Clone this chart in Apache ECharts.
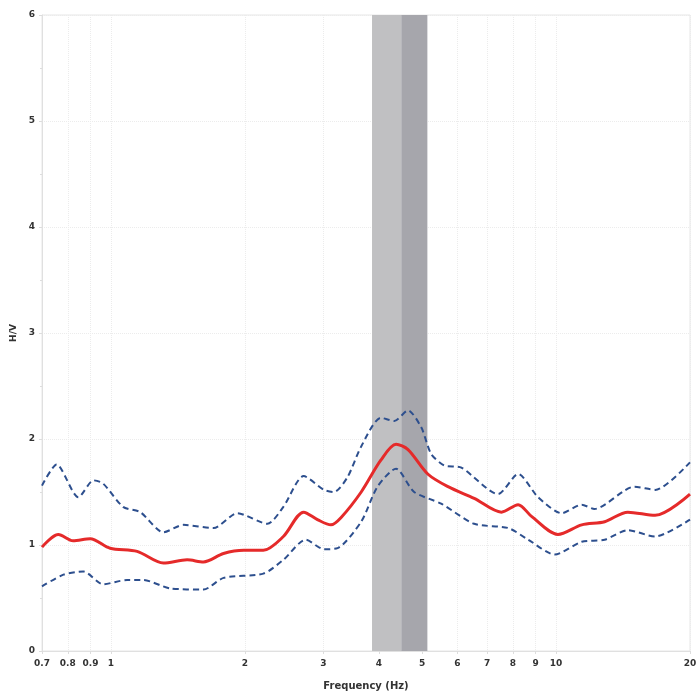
<!DOCTYPE html>
<html><head><meta charset="utf-8">
<script src="https://cdn.jsdelivr.net/npm/echarts@6/dist/echarts.min.js"></script>
<style>html,body{margin:0;padding:0;background:#fff}#c{width:700px;height:696px}</style>
</head><body><div id="c"></div>
<script>
const freqMed = [0.70,0.762,0.822,0.898,0.996,1.145,1.312,1.483,1.614,1.79,1.99,2.20,2.44,2.71,2.91,3.12,3.29,3.65,4.04,4.37,4.65,5.15,5.72,6.55,7.54,8.22,8.81,10.1,11.42,12.86,14.5,16.7,20];
const hvMed   = [0.98,1.10,1.04,1.06,0.97,0.94,0.83,0.86,0.84,0.92,0.95,0.95,1.08,1.31,1.24,1.19,1.26,1.50,1.80,1.95,1.90,1.67,1.55,1.44,1.31,1.38,1.27,1.10,1.19,1.22,1.31,1.28,1.48];
const freqUp  = [0.70,0.755,0.845,0.914,0.960,1.065,1.164,1.312,1.455,1.70,1.923,2.246,2.44,2.71,3.01,3.17,3.40,3.65,4.04,4.33,4.65,4.98,5.24,5.61,6.13,7.41,8.22,9.12,10.3,11.42,12.2,15.0,16.7,20];
const hvUp    = [1.56,1.76,1.45,1.61,1.58,1.36,1.31,1.12,1.19,1.16,1.30,1.20,1.36,1.65,1.52,1.50,1.64,1.93,2.20,2.17,2.27,2.11,1.86,1.75,1.73,1.48,1.67,1.45,1.30,1.38,1.34,1.55,1.52,1.78];
const freqLo  = [0.70,0.782,0.867,0.960,1.087,1.182,1.360,1.614,1.791,2.20,2.44,2.74,3.01,3.23,3.65,3.97,4.37,4.80,5.52,6.55,7.81,8.66,9.93,11.42,12.86,14.5,16.7,20];
const hvLo    = [0.61,0.72,0.75,0.63,0.67,0.67,0.59,0.58,0.69,0.73,0.86,1.05,0.96,0.97,1.22,1.55,1.72,1.50,1.39,1.20,1.16,1.05,0.91,1.03,1.05,1.14,1.08,1.24];
const bandLight = [3.86, 4.49];
const bandDark  = [4.49, 5.14];
const xTicks = [0.7,0.8,0.9,1,2,3,4,5,6,7,8,9,10,20];

const pairs = (xs, ys) => xs.map((x, i) => [x, ys[i]]);
const chart = echarts.init(document.getElementById('c'), null, {renderer: 'canvas'});
const font = 'DejaVu Sans';
chart.setOption({
  animation: false,
  backgroundColor: '#fff',
  grid: {left: 42, right: 10, top: 15, bottom: 41, show: true, borderColor: '#e6e6e6', borderWidth: 1},
  xAxis: {
    type: 'log', logBase: 10, min: 0.7, max: 20,
    name: 'Frequency (Hz)', nameLocation: 'middle', nameGap: 30,
    nameTextStyle: {fontFamily: font, fontSize: 10, fontWeight: 'bold', color: '#333'},
    axisLine: {show: true, lineStyle: {color: '#e0e0e0'}},
    axisTick: {show: true, customValues: xTicks, length: 3, lineStyle: {color: '#ddd'}},
    axisLabel: {customValues: xTicks, fontFamily: font, fontSize: 9, fontWeight: 'bold', color: '#333', margin: 8, hideOverlap: false},
    splitLine: {show: true, lineStyle: {color: '#ececec', type: 'dotted'}}
  },
  yAxis: {
    type: 'value', min: 0, max: 6, interval: 1,
    name: 'H/V', nameLocation: 'middle', nameGap: 18, nameRotate: 90,
    nameTextStyle: {fontFamily: font, fontSize: 9, fontWeight: 'bold', color: '#333'},
    axisLine: {show: true, lineStyle: {color: '#e0e0e0'}},
    axisTick: {show: true, length: 3, lineStyle: {color: '#ddd'}},
    minorTick: {show: true, splitNumber: 2, length: 2, lineStyle: {color: '#ddd'}},
    axisLabel: {fontFamily: font, fontSize: 9, fontWeight: 'bold', color: '#333', margin: 7},
    splitLine: {show: true, lineStyle: {color: '#ececec', type: 'dotted'}}
  },
  series: [
    {
      type: 'line', name: 'bands', data: [], silent: true,
      markArea: {silent: true, data: [
        [{xAxis: bandLight[0], itemStyle: {color: '#c0c0c2'}}, {xAxis: bandLight[1]}],
        [{xAxis: bandDark[0], itemStyle: {color: '#a6a6ac'}}, {xAxis: bandDark[1]}]
      ]}
    },
    {type: 'line', name: 'upper', data: pairs(freqUp, hvUp), showSymbol: false, smooth: 0.25,
     lineStyle: {color: '#2d4f8e', width: 2, type: [6, 4]}, z: 3},
    {type: 'line', name: 'lower', data: pairs(freqLo, hvLo), showSymbol: false, smooth: 0.25,
     lineStyle: {color: '#2d4f8e', width: 2, type: [6, 4]}, z: 3},
    {type: 'line', name: 'median', data: pairs(freqMed, hvMed), showSymbol: false, smooth: 0.3,
     lineStyle: {color: '#e52a2a', width: 3}, z: 4}
  ]
});
</script></body></html>
